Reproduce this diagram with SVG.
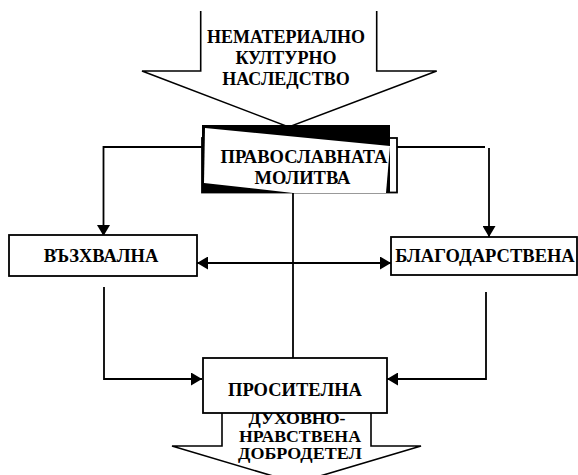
<svg xmlns="http://www.w3.org/2000/svg" width="578" height="475" viewBox="0 0 578 475">
<defs>
<style>
text{font-family:"Liberation Serif","Times New Roman",serif;font-weight:bold;fill:#000;text-anchor:middle}
.box{fill:#fff;stroke:#000;stroke-width:1.8}
.con{fill:none;stroke:#000;stroke-width:1.8}
.arr{fill:#fff;stroke:#000;stroke-width:1.6}
.small{font-size:15.8px}
</style>
<marker id="ah" markerUnits="userSpaceOnUse" markerWidth="12" markerHeight="13" refX="11" refY="6.5" orient="auto-start-reverse">
<path d="M0,0 L11,6.5 L0,13 z" fill="#000"/>
</marker>
</defs>
<rect width="578" height="475" fill="#fff"/>
<g id="heritage">
<path class="arr" d="M200.7,11 V71 H142 L288.7,127 L436.7,71 H376.7 V11"/>
<text font-size="18" x="286" y="42.5">НЕМАТЕРИАЛНО</text>
<text font-size="18" x="286" y="64">КУЛТУРНО</text>
<text font-size="18" x="286" y="85">НАСЛЕДСТВО</text>
</g>
<g id="connectors">
<path class="con" d="M203,147 H103.5 V236" marker-end="url(#ah)"/>
<path class="con" d="M397,147 H485"/>
<path class="con" d="M489,148 V237" marker-end="url(#ah)"/>
<path class="con" d="M197,263 H391" marker-start="url(#ah)" marker-end="url(#ah)"/>
<path class="con" d="M293,193 V373" marker-end="url(#ah)"/>
<path class="con" d="M104,287 V379 H202" marker-end="url(#ah)"/>
<path class="con" d="M486,292 V379 H387" marker-end="url(#ah)"/>
</g>
<g id="prayer">
<rect x="202" y="138" width="195" height="54.5" fill="none" stroke="#000" stroke-width="1.8"/>
<rect x="202" y="125" width="188" height="68" fill="#000"/>
<polygon points="205,128 390,146 386,193 293,193 204,183" fill="#fff"/>
<text font-size="18.5" x="304" y="163">ПРАВОСЛАВНАТА</text>
<text font-size="18.5" x="302.5" y="184">МОЛИТВА</text>
</g>
<g id="praise">
<rect class="box" x="9" y="235" width="188" height="41"/>
<text font-size="18.5" x="101" y="262">ВЪЗХВАЛНА</text>
</g>
<g id="thanks">
<rect class="box" x="391" y="237" width="186" height="38"/>
<text font-size="18.5" x="485" y="262">БЛАГОДАРСТВЕНА</text>
</g>
<g id="virtue">
<path class="arr" d="M222,413 V446 H172 L296.5,483 L421,446 H371 V413"/>
<text class="small" x="297" y="424" textLength="97" lengthAdjust="spacingAndGlyphs">ДУХОВНО-</text>
<text class="small" x="300" y="441.5" textLength="122" lengthAdjust="spacingAndGlyphs">НРАВСТВЕНА</text>
<text class="small" x="300" y="459" textLength="124" lengthAdjust="spacingAndGlyphs">ДОБРОДЕТЕЛ</text>
</g>
<g id="petition">
<rect class="box" x="203" y="358" width="184" height="55"/>
<text font-size="18.5" x="295" y="396">ПРОСИТЕЛНА</text>
</g>
</svg>
